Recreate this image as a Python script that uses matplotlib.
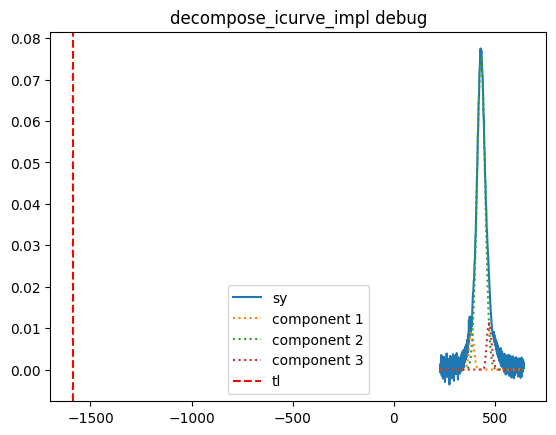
import numpy as np
import matplotlib
matplotlib.use("Agg")
import matplotlib.pyplot as plt

# ---- data ----
sy_x_start = 228
sy_x_step = 2
sy = [
    0.0012, -0.0008, 0.0021, 0.0035, -0.0015, 0.0004, 0.0028, -0.0022, 0.0010, 0.0031,
    -0.0005, 0.0018, -0.0030, 0.0007, 0.0024, -0.0012, 0.0039, 0.0002, -0.0018, 0.0015,
    0.0026, -0.0009, 0.0011, -0.0036, 0.0019, 0.0033, -0.0004, 0.0008, -0.0021, 0.0029,
    0.0003, -0.0014, 0.0037, 0.0016, -0.0027, 0.0009, 0.0022, -0.0006, 0.0034, -0.0011,
    0.0017, 0.0040, -0.0003, 0.0012, -0.0024, 0.0030, 0.0006, 0.0025, -0.0010, 0.0021,
    0.0028, -0.0004, 0.0035, 0.0009, 0.0042, -0.0002, 0.0031, 0.0014, 0.0048, 0.0006,
    0.0039, 0.0018, 0.0055, 0.0024, 0.0061, 0.0030, 0.0049, 0.0072, 0.0041, 0.0085,
    0.0060, 0.0118, 0.0079, 0.0128, 0.0092, 0.0110, 0.0085, 0.0122, 0.0104, 0.0131,
    0.0158, 0.0183, 0.0189, 0.0214, 0.0219, 0.0256, 0.0268, 0.0311, 0.0332, 0.0385,
    0.0414, 0.0468, 0.0497, 0.0561, 0.0584, 0.0645, 0.0660, 0.0712, 0.0730, 0.0768,
    0.0775, 0.0762, 0.0770, 0.0749, 0.0718, 0.0706, 0.0671, 0.0622, 0.0605, 0.0541,
    0.0521, 0.0468, 0.0449, 0.0402, 0.0388, 0.0342, 0.0331, 0.0302, 0.0285, 0.0264,
    0.0241, 0.0220, 0.0198, 0.0181, 0.0158, 0.0142, 0.0124, 0.0108, 0.0098, 0.0094,
    0.0083, 0.0089, 0.0078, 0.0091, 0.0066, 0.0082, 0.0058, 0.0073, 0.0049, 0.0068,
    0.0042, 0.0061, 0.0035, 0.0057, 0.0029, 0.0050, 0.0021, 0.0046, 0.0018, 0.0052,
    0.0012, 0.0039, 0.0007, 0.0044, 0.0015, 0.0036, 0.0003, 0.0031, -0.0006, 0.0038,
    0.0010, 0.0027, -0.0012, 0.0034, 0.0005, 0.0024, -0.0009, 0.0030, 0.0002, 0.0036,
    -0.0015, 0.0021, 0.0008, 0.0033, -0.0004, 0.0017, -0.0019, 0.0026, 0.0001, 0.0032,
    -0.0010, 0.0019, -0.0021, 0.0028, 0.0006, -0.0014, 0.0023, 0.0004, 0.0030, -0.0008,
    0.0016, -0.0003, 0.0025, -0.0017, 0.0011, 0.0027, -0.0011, 0.0020, 0.0003, -0.0020,
    0.0018, 0.0029, -0.0016, 0.0012, -0.0005, 0.0024, 0.0002, 0.0015,
]

comp_x = [228, 340, 345, 350, 355, 360, 365, 370, 375, 380, 385, 390, 395, 400,
          405, 410, 415, 420, 425, 430, 435, 440, 445, 450, 455, 460, 465, 470,
          475, 480, 485, 490, 495, 500, 505, 510, 515, 520, 530, 642]
component1 = [0, 0, 0, 0.0001, 0.0004, 0.0012, 0.0025, 0.0047, 0.0073, 0.0091,
              0.0093, 0.0078, 0.0053, 0.0029, 0.0013, 0.0005, 0.0001, 0, 0, 0,
              0, 0, 0, 0, 0, 0, 0, 0, 0, 0, 0, 0, 0, 0, 0, 0, 0, 0, 0, 0]
component2 = [0, 0, 0, 0, 0.0001, 0.0002, 0.0004, 0.0008, 0.0017, 0.0033,
              0.0060, 0.0102, 0.0163, 0.0245, 0.0346, 0.0458, 0.0570, 0.0666, 0.0732, 0.0755,
              0.0732, 0.0666, 0.0570, 0.0458, 0.0346, 0.0245, 0.0163, 0.0102, 0.0060, 0.0033,
              0.0017, 0.0008, 0.0004, 0.0002, 0.0001, 0, 0, 0, 0, 0]
component3 = [0, 0, 0, 0, 0, 0, 0, 0, 0, 0,
              0, 0, 0, 0, 0, 0, 0, 0, 0, 0,
              0, 0, 0.0003, 0.0017, 0.0046, 0.0079, 0.0104, 0.0112, 0.0102, 0.0078,
              0.0052, 0.0030, 0.0015, 0.0007, 0.0003, 0.0001, 0, 0, 0, 0]
tl = -1586

# ---- plot ----
sy_x = sy_x_start + sy_x_step * np.arange(len(sy))

fig, ax = plt.subplots(figsize=(6.4, 4.8), dpi=100)
ax.plot(sy_x, sy, label="sy")
ax.plot(comp_x, component1, ":", label="component 1")
ax.plot(comp_x, component2, ":", label="component 2")
ax.plot(comp_x, component3, ":", label="component 3")
ax.axvline(tl, color="red", linestyle="--", label="tl")
ax.set_title("decompose_icurve_impl debug")
ax.legend(loc="lower center")
fig.savefig("out.png", bbox_inches="tight")
